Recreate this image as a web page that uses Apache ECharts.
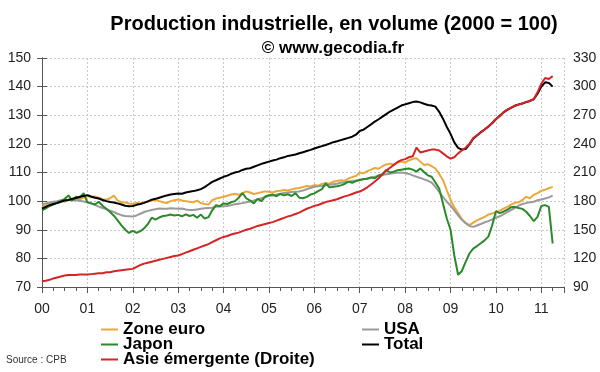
<!DOCTYPE html>
<html><head><meta charset="utf-8">
<script src="https://cdn.jsdelivr.net/npm/echarts@6/dist/echarts.min.js"></script>
<style>html,body{margin:0;padding:0;background:#fff}#c{width:600px;height:372px}</style>
</head><body><div id="c"></div>
<script>
var yearLabels = ['00','01','02','03','04','05','06','07','08','09','10','11'];
// monthly values, Jan 2000 onwards (index = month)
var zoneEuro = [
98.0,98.5,99.0,99.3,99.6,100.3,99.8,100.5,100.2,100.8,100.6,101.2,
101.8,101.3,101.6,101.2,100.7,100.5,101.0,101.9,100.2,99.6,99.5,99.2,
99.0,99.4,99.2,99.6,99.9,100.2,100.5,100.0,99.6,99.3,100.0,100.3,
100.6,100.2,100.0,99.8,99.6,100.2,99.3,99.0,98.8,100.3,100.9,101.2,
101.5,101.9,102.3,102.5,102.2,102.8,103.4,103.0,102.5,102.8,103.1,103.4,
103.3,103.0,103.5,103.6,103.9,103.7,104.1,104.4,104.6,104.9,105.3,105.1,
105.6,105.4,106.0,106.3,106.1,106.8,107.0,107.3,107.1,107.9,108.4,108.8,
110.0,109.7,110.5,111.0,111.6,111.3,112.2,112.8,113.1,112.7,113.5,113.8,
113.5,114.2,114.8,115.0,113.8,112.6,112.9,112.2,111.4,109.5,107.4,103.8,
100.5,97.8,95.8,93.7,92.4,91.6,92.5,93.3,93.9,94.5,95.3,95.7,
96.1,96.6,97.4,98.0,98.8,99.4,99.6,100.4,101.5,101.0,102.2,102.8,
103.6,104.0,104.5,105.0];
var usa = [
98.8,99.2,99.5,99.8,100.0,100.3,100.4,100.5,100.4,100.3,100.1,99.9,
99.6,99.2,98.7,98.1,97.6,97.2,96.7,96.2,95.6,95.1,94.8,94.7,
94.6,95.0,95.6,96.2,96.6,96.9,97.2,97.4,97.3,97.3,97.5,97.4,
97.3,97.4,97.1,96.9,96.9,97.1,97.3,97.5,97.6,97.7,98.0,98.1,
98.2,98.3,98.6,98.9,99.1,99.3,99.6,99.9,100.2,100.6,101.0,101.4,
101.8,102.0,102.3,102.6,102.8,103.0,103.2,103.3,103.4,103.7,104.2,104.6,
105.0,105.2,105.4,105.5,105.7,105.9,106.1,106.4,106.6,106.8,107.0,107.2,
107.4,107.6,107.9,108.2,108.5,108.8,109.1,109.4,109.6,109.8,109.9,110.0,
109.8,109.5,109.0,108.5,108.1,107.6,107.1,106.5,105.0,103.2,101.5,99.8,
98.5,96.8,95.0,93.5,92.3,91.3,91.0,91.5,92.0,92.6,93.0,93.6,
94.2,94.7,95.4,96.2,96.9,97.6,98.4,99.0,99.3,99.6,99.8,100.3,
100.6,100.9,101.3,101.9];
var japon = [
96.8,97.5,98.3,98.8,99.5,100.0,100.8,102.0,100.2,101.5,101.2,102.8,
99.6,99.2,98.8,99.8,98.4,97.3,96.2,94.9,93.3,91.5,90.0,88.9,
89.6,88.9,89.5,90.5,92.0,94.2,93.5,94.3,94.8,95.0,95.3,95.0,
95.2,94.7,95.4,94.8,95.2,94.2,95.3,93.9,94.4,96.8,98.6,98.2,
99.2,99.0,99.6,100.0,101.2,102.8,101.0,100.2,99.2,100.8,100.0,101.6,
102.1,102.3,101.7,102.5,102.0,102.4,101.8,102.8,101.2,101.0,101.5,102.3,
102.7,103.5,104.2,106.2,104.8,105.0,105.2,105.5,106.0,106.8,106.4,107.0,
107.4,107.7,107.8,108.3,108.0,109.0,109.4,110.9,110.0,110.3,110.8,111.0,
111.2,111.4,111.0,110.3,111.4,110.2,109.0,108.5,106.5,104.4,99.2,94.0,
90.0,81.0,74.3,75.6,78.8,81.7,83.4,84.3,85.3,86.3,87.6,91.5,
96.5,95.8,96.3,97.0,97.9,98.0,97.6,97.3,96.3,94.8,93.0,94.5,
98.3,98.6,98.0,85.2];
var total = [
97.4,98.0,98.6,99.0,99.3,99.8,100.2,100.4,100.8,101.1,101.5,101.8,
102.1,101.6,101.2,100.9,100.4,100.0,99.7,99.5,99.2,98.8,98.4,98.2,
98.3,98.7,99.0,99.4,99.9,100.5,100.8,101.2,101.6,102.0,102.3,102.5,
102.7,102.6,103.0,103.3,103.5,103.8,104.2,104.9,105.8,106.7,107.3,107.9,
108.5,108.9,109.5,110.0,110.3,110.9,111.3,111.5,112.0,112.5,113.0,113.4,
113.8,114.2,114.5,115.0,115.3,115.8,116.0,116.3,116.7,117.1,117.5,117.9,
118.4,118.8,119.2,119.6,120.1,120.6,120.9,121.3,121.7,122.1,122.5,123.2,
124.5,125.0,125.9,126.8,127.8,128.6,129.5,130.4,131.3,132.0,132.7,133.4,
133.8,134.2,134.6,134.8,134.5,134.0,133.6,133.4,133.0,131.2,128.8,126.0,
123.5,120.5,118.6,118.0,118.2,119.8,121.8,122.9,124.1,125.0,126.1,127.2,
128.6,129.8,131.0,131.9,132.6,133.3,133.8,134.1,134.6,135.0,135.6,137.5,
140.0,141.5,141.3,140.0];
var asieEmergente = [
96,96.5,97.5,99,100,101,102,102.5,102.5,102.5,103,103,
103,103.5,104,104.5,104.5,105.5,105.5,106.5,107,107.5,108,108.5,
109,111,113,114.5,115.5,116.5,117.5,118.5,119.5,120.5,121.5,122.5,
123,124.5,126,127.5,129,130.5,132,133.5,135,137,139,141,
142.5,143.5,145,146,147,148.5,150,151,152.5,154,155,156,
157,158,159.5,161,162.5,164,165,166.5,168,170,172,173.5,
175,176,177.5,179,180,181,182,183.5,185,186,187.5,189,
190,192,194.5,197.5,200.5,204,208,212,215,218,221,223,
224,226,227,236,231,232,233,234,234,233,230,227,
224.5,226,230,233,236,240,246,249,252,255,258,262,
266,269,273,276,278,280,281,282.5,284,285,287,294,
303,309,308,311];

function pts(arr){ return arr.map(function(v,i){ return [i, v]; }); }
var FONT = '"Liberation Sans", Arial, sans-serif';
var chart = echarts.init(document.getElementById('c'), null, {renderer:'canvas'});
var gridLine = {show:true, lineStyle:{color:'#c8c8c8', type:[2,2], width:1}};
var axisLineStyle = {show:true, lineStyle:{color:'#555', width:1}};
function mkSeries(name, arr, color, yIdx){
  return {name:name, type:'line', data:pts(arr), xAxisIndex:0, yAxisIndex:yIdx,
    showSymbol:false, symbol:'none', lineStyle:{color:color, width:2}, itemStyle:{color:color},
    animation:false};
}
function mkLegend(name, left, top){
  return {orient:'vertical', left:left, top:top, padding:0, itemGap:0,
    itemWidth:17, itemHeight:2, icon:'rect',
    textStyle:{fontSize:17, fontWeight:'bold', color:'#000', fontFamily:FONT, lineHeight:15},
    data:[name]};
}
chart.setOption({
  backgroundColor:'#fff',
  animation:false,
  textStyle:{fontFamily:FONT},
  grid:{left:42, right:36, top:58, bottom:85},
  xAxis:[{
    type:'value', min:0, max:138, interval:12,
    axisLine:axisLineStyle,
    axisTick:{show:true, length:6, lineStyle:{color:'#555'}},
    axisLabel:{color:'#222', fontSize:14, fontFamily:FONT, margin:15,
      formatter:function(v){ return (v % 12 === 0) ? yearLabels[v/12] : ''; }},
    splitLine:gridLine
  },{
    type:'value', min:0, max:138, interval:3, position:'bottom',
    axisLine:{show:false}, axisTick:{show:true, length:4, lineStyle:{color:'#555'}},
    axisLabel:{show:false}, splitLine:{show:false}
  }],
  yAxis:[{
    type:'value', min:70, max:150, interval:10, position:'left',
    axisLine:axisLineStyle,
    axisTick:{show:true, length:5, lineStyle:{color:'#555'}},
    axisLabel:{color:'#222', fontSize:14, fontFamily:FONT, margin:11},
    splitLine:gridLine
  },{
    type:'value', min:90, max:330, interval:30, position:'right',
    axisLine:axisLineStyle,
    axisTick:{show:true, length:5, lineStyle:{color:'#555'}},
    axisLabel:{color:'#222', fontSize:14, fontFamily:FONT, margin:9},
    splitLine:{show:false}
  }],
  legend:[
    mkLegend('Zone euro', 101, 321),
    mkLegend('Japon', 101, 336),
    mkLegend('Asie émergente (Droite)', 101, 351),
    mkLegend('USA', 362, 321),
    mkLegend('Total', 362, 336)
  ],
  graphic:[
    {type:'text', x:334, y:24, style:{text:'Production industrielle, en volume (2000 = 100)',
      font:'bold 20px '+FONT, fill:'#000', align:'center', verticalAlign:'middle'}},
    {type:'text', x:333, y:48, style:{text:'© www.gecodia.fr',
      font:'bold 17px '+FONT, fill:'#000', align:'center', verticalAlign:'middle'}},
    {type:'text', x:6, y:360, style:{text:'Source : CPB',
      font:'10px '+FONT, fill:'#333', align:'left', verticalAlign:'middle'}}
  ],
  series:[
    mkSeries('Zone euro', zoneEuro, '#EBA83A', 0),
    mkSeries('USA', usa, '#9A9A9A', 0),
    mkSeries('Japon', japon, '#2A8A2A', 0),
    mkSeries('Total', total, '#000000', 0),
    mkSeries('Asie émergente (Droite)', asieEmergente, '#D42424', 1)
  ]
});
</script></body></html>
